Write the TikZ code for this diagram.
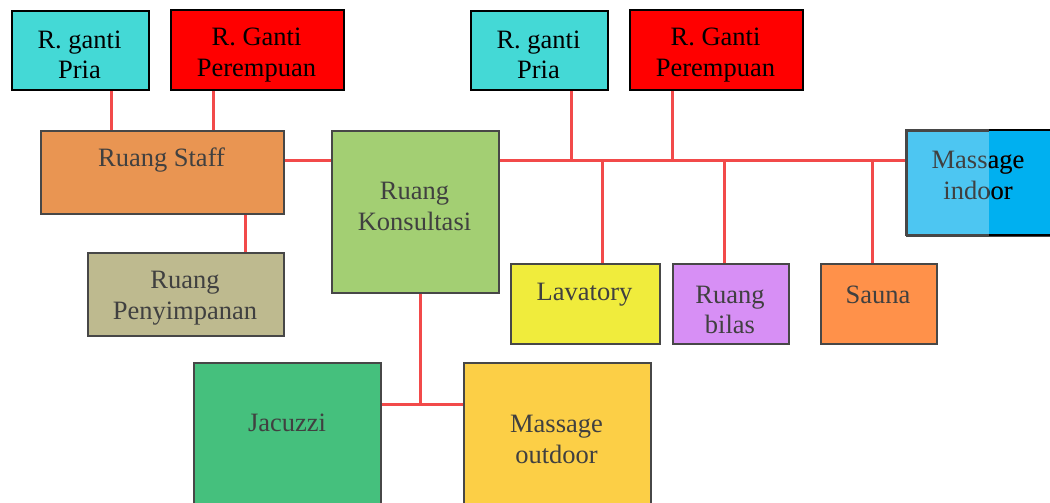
\documentclass[tikz,border=0pt]{standalone}
\usepackage{fontspec}
\setmainfont{Liberation Serif}
\definecolor{cyanbox}{HTML}{44D9D6}
\definecolor{redbox}{HTML}{FF0000}
\definecolor{staffc}{HTML}{E99552}
\definecolor{simpanc}{HTML}{BEBA8F}
\definecolor{konsc}{HTML}{A3CF73}
\definecolor{lavc}{HTML}{F0EC3C}
\definecolor{bilasc}{HTML}{D78FF5}
\definecolor{saunac}{HTML}{FF914A}
\definecolor{mic}{HTML}{4DC6F2}
\definecolor{mic2}{HTML}{00B0F0}
\definecolor{jacc}{HTML}{45C07D}
\definecolor{moc}{HTML}{FCCF46}
\definecolor{linec}{HTML}{F24A4A}
\definecolor{txtg}{HTML}{404040}
\definecolor{bord}{HTML}{474747}
\tikzset{
  room/.style={draw=bord, line width=2pt, inner sep=0pt, anchor=north west},
  toproom/.style={room, draw=black},
  lbl/.style={inner sep=0pt, align=center, text=txtg, font=\fontsize{26.5}{30.5}\selectfont},
  toplbl/.style={lbl, text=black},
  conn/.style={draw=linec, line width=3pt},
}
\newcommand{\roombox}[6]{% name, x1, y1, x2, y2, style
  \node[#6, minimum width={(#4-#2)*1pt}, minimum height={(#5-#3)*1pt}] (#1) at (#2,#3) {};}
\begin{document}
\begin{tikzpicture}[x=1pt,y=-1pt]
\useasboundingbox (0,0) rectangle (1050,503);
\coordinate (jA) at (571,160);
\coordinate (jB) at (672,160);
\coordinate (jC) at (602,160);
\coordinate (jD) at (724,160);
\coordinate (jE) at (872,160);
\coordinate (jF) at (420,404);
% boxes
\roombox{rgp1}{11}{10}{148}{89}{toproom, fill=cyanbox}
\roombox{rgw1}{170}{9}{343}{89}{toproom, fill=redbox}
\roombox{rgp2}{470}{10}{607}{89}{toproom, fill=cyanbox}
\roombox{rgw2}{629}{9}{802}{89}{toproom, fill=redbox}
\roombox{staff}{40}{130}{283}{213}{room, fill=staffc}
\roombox{simpan}{87}{252}{283}{335}{room, fill=simpanc}
\roombox{kons}{331}{130}{498}{292}{room, fill=konsc}
\roombox{lav}{510}{263}{659}{343}{room, fill=lavc}
\roombox{bilas}{672}{263}{788}{343}{room, fill=bilasc}
\roombox{sauna}{820}{263}{936}{343}{room, fill=saunac}
\roombox{jac}{193}{362}{380}{503}{room, fill=jacc}
\roombox{mo}{463}{362}{650}{503}{room, fill=moc}
\roombox{mi}{906}{130}{1050}{235}{room, fill=mic}
% connectors
\draw[conn] (rgp1.south -| 111,0) -- (staff.north -| 111,0);
\draw[conn] (rgw1.south -| 213,0) -- (staff.north -| 213,0);
\draw[conn] (staff.east |- jA) -- (kons.west |- jA);
\draw[conn] (staff.south -| 245,0) -- (simpan.north -| 245,0);
\draw[conn] (kons.east |- jA) -- (mi.west |- jA);
\draw[conn] (rgp2.south -| jA) -- (jA);
\draw[conn] (rgw2.south -| jB) -- (jB);
\draw[conn] (jC) -- (lav.north -| jC);
\draw[conn] (jD) -- (bilas.north -| jD);
\draw[conn] (jE) -- (sauna.north -| jE);
\draw[conn] (kons.south -| jF) -- (jF);
\draw[conn] (jac.east |- jF) -- (mo.west |- jF);
% darker part of massage indoor
\fill[mic2] (989,131) rectangle (1050,234);
\draw[bord, line width=2pt] (989,130) -| (906,235) -- (989,235);
\draw[black, line width=2pt] (989,130) -- (1050,130) (989,235) -- (1050,235);
% labels
\node[toplbl] at (79.5,55) {R. ganti\\Pria};
\node[toplbl] at (256.5,55) {R. Ganti\\Perempuan};
\node[toplbl] at (538.5,55) {R. ganti\\Pria};
\node[toplbl] at (715.5,55) {R. Ganti\\Perempuan};
\node[lbl] at (161.5,160) {Ruang Staff};
\node[lbl] at (185,298) {Ruang\\Penyimpanan};
\node[lbl] at (414.5,206.5) {Ruang\\Konsultasi};
\node[lbl] at (584.5,295) {Lavatory};
\node[lbl] at (730,310) {Ruang\\bilas};
\node[lbl] at (878,295) {Sauna};
\node[lbl] at (287,423) {Jacuzzi};
\node[lbl] at (556.5,439.5) {Massage\\outdoor};
\node[lbl] at (978,175.5) {Massage\\indoor};
\begin{scope}
\clip (989,120) rectangle (1060,240);
\node[lbl, text=black] at (978,175.5) {Massage\\indoor};
\end{scope}
\end{tikzpicture}
\end{document}
